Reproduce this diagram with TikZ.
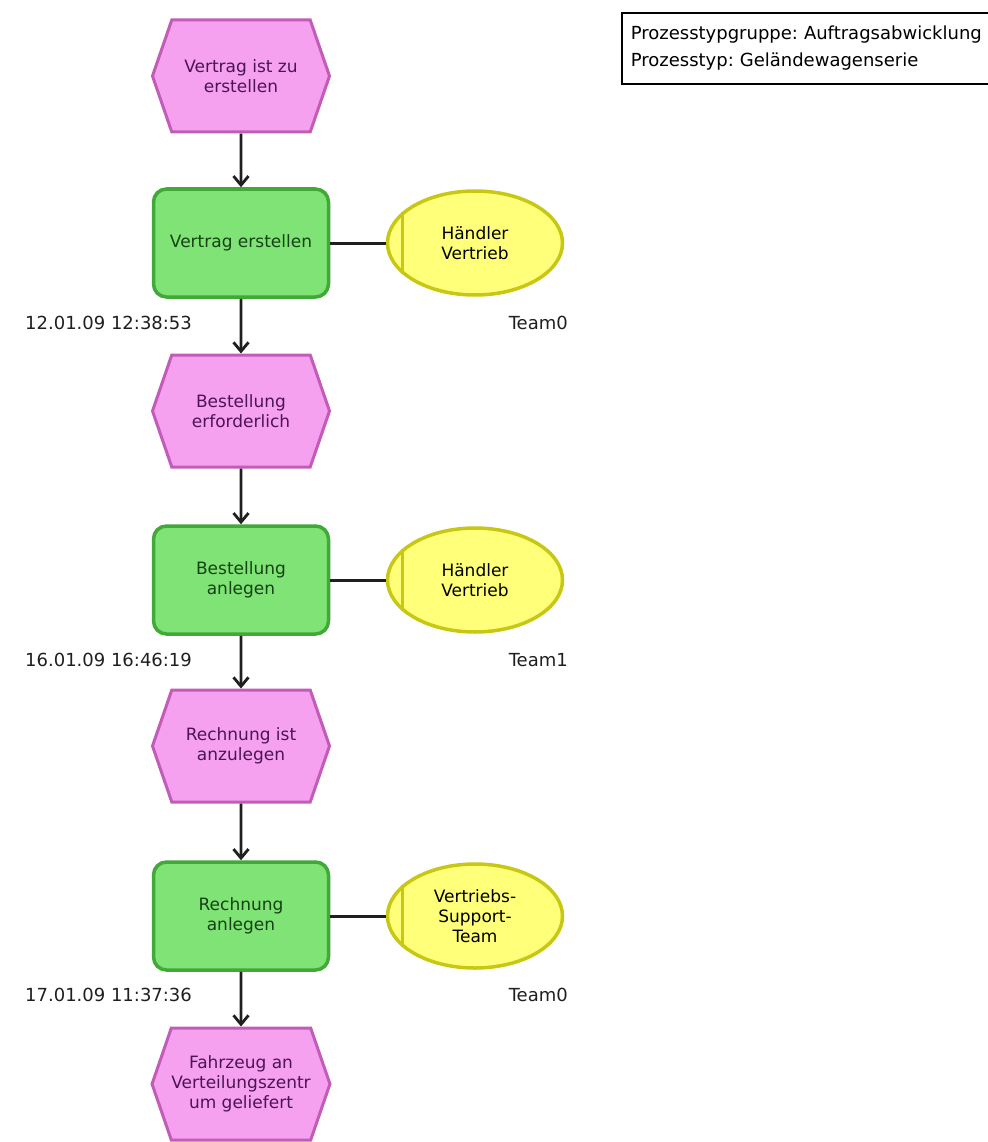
\documentclass[tikz,border=0pt]{standalone}
\usepackage{fontspec}
\setmainfont{DejaVu Sans}
\usetikzlibrary{shapes.symbols,shapes.geometric,arrows.meta}
\newlength{\du}
\setlength{\du}{1pt}
\frenchspacing
\definecolor{evfillcolor}{rgb}{0.960000, 0.630000, 0.940000}
\definecolor{evlinecolor}{rgb}{0.760000, 0.360000, 0.720000}
\definecolor{evtextcolor}{rgb}{0.300000, 0.080000, 0.320000}
\definecolor{fnfillcolor}{rgb}{0.500000, 0.890000, 0.460000}
\definecolor{fnlinecolor}{rgb}{0.260000, 0.660000, 0.220000}
\definecolor{fntextcolor}{rgb}{0.080000, 0.260000, 0.080000}
\definecolor{orgfillcolor}{rgb}{1.000000, 1.000000, 0.480000}
\definecolor{orglinecolor}{rgb}{0.780000, 0.780000, 0.080000}
\definecolor{dialinecolor}{rgb}{0.120000, 0.120000, 0.120000}

\begin{document}
\begin{tikzpicture}[x=1\du,y=-1\du,
  ev/.style={shape=signal,signal to=west and east,signal pointer angle=142,
    minimum width=177\du,minimum height=112\du,inner sep=0pt,
    draw=evlinecolor,fill=evfillcolor,line width=3\du,
    text=evtextcolor,align=center,font=\fontsize{17}{20}\selectfont},
  fn/.style={rectangle,rounded corners=13\du,minimum width=175\du,minimum height=108\du,
    draw=fnlinecolor,fill=fnfillcolor,line width=3.5\du,
    text=fntextcolor,align=center,font=\fontsize{17}{20}\selectfont},
  org/.style={ellipse,minimum width=175\du,minimum height=104\du,inner sep=0pt,
    draw=orglinecolor,fill=orgfillcolor,line width=3.5\du,
    align=center,font=\fontsize{17}{20}\selectfont},
  stamp/.style={inner sep=0pt,text=dialinecolor,font=\fontsize{18}{20}\selectfont},
  flow/.style={-{Straight Barb[length=9pt,width=15pt]},line width=2.8\du,dialinecolor},
  assoc/.style={line width=3\du,dialinecolor}]
\useasboundingbox (0,0) rectangle (987,1142);

% Prozessinfo
\node[draw,line width=1.6\du,anchor=north west,minimum width=380\du,minimum height=71\du,
  inner xsep=9\du,text width=362\du,align=left,font=\fontsize{18}{27}\selectfont]
  (info) at (621,12) {Prozesstypgruppe: Auftragsabwicklung\\Prozesstyp: Geländewagenserie};

% Vertrag
\node[ev] (ev1) at (241,76) {Vertrag ist zu\\erstellen};
\node[fn] (fn1) at (241,243) {Vertrag erstellen};
\node[org] (org1) at (475,243) {Händler\\Vertrieb};
\draw[orglinecolor,line width=3\du] (org1.157) -- (org1.203);
\node[stamp,anchor=west] (time1) at (25,323) {12.01.09 12:38:53};
\node[stamp,anchor=east] (team1) at (568,323) {Team0};

% Bestellung
\node[ev] (ev2) at (241,411) {Bestellung\\erforderlich};
\node[fn] (fn2) at (241,580) {Bestellung\\anlegen};
\node[org] (org2) at (475,580) {Händler\\Vertrieb};
\draw[orglinecolor,line width=3\du] (org2.157) -- (org2.203);
\node[stamp,anchor=west] (time2) at (25,660) {16.01.09 16:46:19};
\node[stamp,anchor=east] (team2) at (568,660) {Team1};

% Rechnung
\node[ev] (ev3) at (241,746) {Rechnung ist\\anzulegen};
\node[fn] (fn3) at (241,916) {Rechnung\\anlegen};
\node[org] (org3) at (475,916) {Vertriebs-\\Support-\\Team};
\draw[orglinecolor,line width=3\du] (org3.157) -- (org3.203);
\node[stamp,anchor=west] (time3) at (25,995) {17.01.09 11:37:36};
\node[stamp,anchor=east] (team3) at (568,995) {Team0};

% Fahrzeug
\node[ev] (ev4) at (241,1084) {Fahrzeug an\\Verteilungszentr\\um geliefert};

\draw[flow] (ev1) -- (fn1);
\draw[flow] (fn1) -- (ev2);
\draw[flow] (ev2) -- (fn2);
\draw[flow] (fn2) -- (ev3);
\draw[flow] (ev3) -- (fn3);
\draw[flow] (fn3) -- (ev4);
\draw[assoc] (fn1) -- (org1);
\draw[assoc] (fn2) -- (org2);
\draw[assoc] (fn3) -- (org3);
\end{tikzpicture}
\end{document}
